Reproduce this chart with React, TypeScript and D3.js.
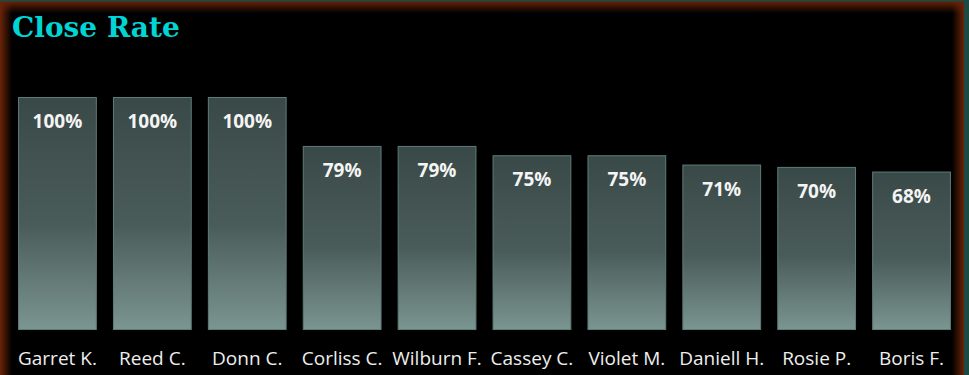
import React from "react";
import * as d3 from "d3";

const categories = ["Garret K.", "Reed C.", "Donn C.", "Corliss C.", "Wilburn F.", "Cassey C.", "Violet M.", "Daniell H.", "Rosie P.", "Boris F."];
const closeRates = [1.0, 1.0, 1.0, 0.79, 0.79, 0.75, 0.75, 0.71, 0.7, 0.68];
const titleText = "Close Rate";

const W = 969;
const H = 375;

export default function App() {
  const x = d3.scaleBand<string>().domain(categories).range([10, 959]).paddingInner(0.17).paddingOuter(0.085);
  const y = d3.scaleLinear().domain([0, 1]).range([330, 97]);
  const fmt = d3.format(".0%");

  return (
    <svg width={W} height={H} style={{ position: "fixed", left: 0, top: 0, background: "#000" }}>
      <defs>
        <linearGradient id="barGrad" x1="0" y1="0" x2="0" y2="1">
          <stop offset="0" stopColor="#394947" />
          <stop offset="0.55" stopColor="#4a5c5a" />
          <stop offset="1" stopColor="#7b9591" />
        </linearGradient>
        <linearGradient id="glowL" x1="0" y1="0" x2="1" y2="0">
          <stop offset="0" stopColor="#6a2408" stopOpacity="1" />
          <stop offset="1" stopColor="#6a2408" stopOpacity="0" />
        </linearGradient>
        <linearGradient id="glowR" x1="1" y1="0" x2="0" y2="0">
          <stop offset="0" stopColor="#6a2408" stopOpacity="1" />
          <stop offset="1" stopColor="#6a2408" stopOpacity="0" />
        </linearGradient>
        <linearGradient id="glowT" x1="0" y1="0" x2="0" y2="1">
          <stop offset="0" stopColor="#6a2408" stopOpacity="1" />
          <stop offset="1" stopColor="#6a2408" stopOpacity="0" />
        </linearGradient>
      </defs>
      <rect x={0} y={0} width={W} height={H} fill="#000" />
      <rect x={0} y={1} width={12} height={H - 1} fill="url(#glowL)" />
      <rect x={0} y={1} width={964} height={12} fill="url(#glowT)" />
      <rect x={952} y={1} width={12} height={H - 1} fill="url(#glowR)" />
      <rect x={0} y={0} width={W} height={1.5} fill="#1c4a45" />
      <rect x={964} y={0} width={5} height={H} fill="#1c4a45" />

      <text x={12} y={37} fill="#00d4d4" fontFamily="'DejaVu Serif', serif" fontWeight="bold" fontSize={28}>
        {titleText}
      </text>

      {categories.map((c, i) => {
        const v = closeRates[i];
        const bx = x(c)!;
        const bw = x.bandwidth();
        const top = y(v);
        return (
          <g key={c}>
            <rect x={bx + 0.5} y={top + 0.5} width={bw - 1} height={y(0) - top - 1} fill="url(#barGrad)" stroke="#5d7d7a" strokeWidth={1} />
            <text x={bx + bw / 2} y={top + 31} textAnchor="middle" fill="#f4f4f4" fontFamily="'Open Sans', sans-serif" fontWeight="bold" fontSize={19}>
              {fmt(v)}
            </text>
            <text x={bx + bw / 2} y={365} textAnchor="middle" fill="#eeeeee" fontFamily="'Open Sans', sans-serif" fontSize={19}>
              {c}
            </text>
          </g>
        );
      })}
    </svg>
  );
}
